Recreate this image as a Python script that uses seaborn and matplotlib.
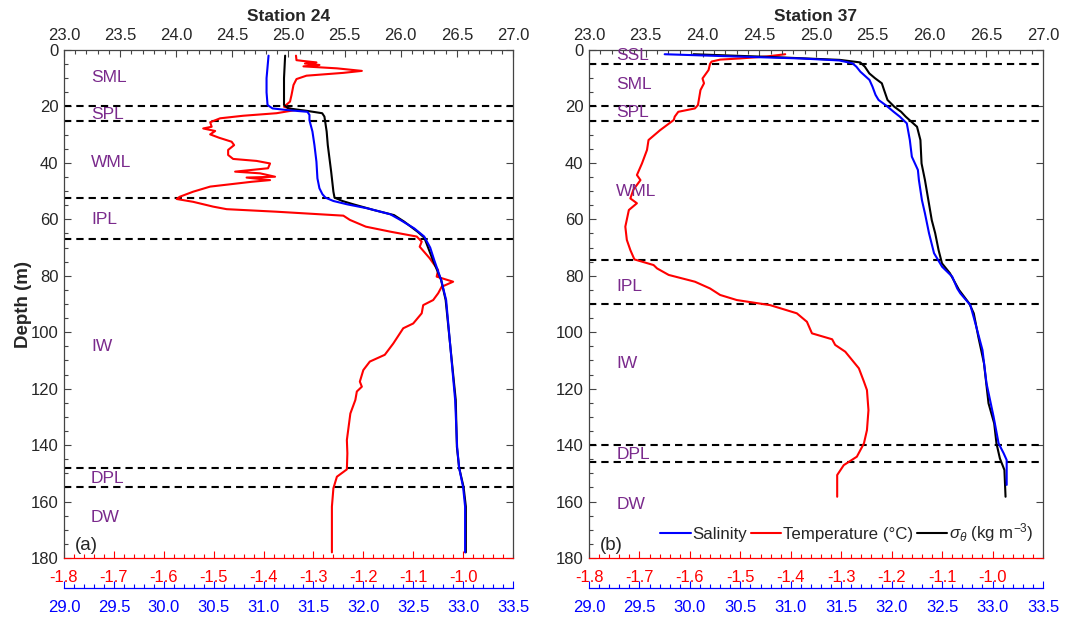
import matplotlib
matplotlib.use("Agg")
import numpy as np
import pandas as pd
import seaborn as sns
import matplotlib.pyplot as plt
from matplotlib.lines import Line2D
from matplotlib.ticker import MultipleLocator, FormatStrFormatter

# ---------------- Station 24 profiles ----------------
st24_sal_depth = [2.0, 6, 10, 15, 19.5, 20.7, 21.3, 21.9, 23.0, 24.9, 28.9, 33.7, 39.6, 45.5,
                  49.0, 51.1, 52.3, 53.5, 54.7, 56.1, 58.2, 60.2, 63.2, 66.1, 70, 74.4, 81.5,
                  88.6, 100.4, 112.2, 124, 140.6, 148, 154.9, 161.8, 178]
st24_sal = [31.05, 31.04, 31.03, 31.03, 31.04, 31.09, 31.24, 31.44, 31.46, 31.46, 31.49, 31.51,
            31.53, 31.54, 31.56, 31.59, 31.62, 31.70, 31.84, 32.04, 32.27, 32.37, 32.51, 32.61,
            32.67, 32.71, 32.78, 32.83, 32.86, 32.89, 32.92, 32.94, 32.96, 33.00, 33.02, 33.02]

st24_sig_depth = [2.0, 10, 19.5, 20.7, 21.6, 22.4, 23.6, 28.9, 33.7, 43.1, 50.2, 52.3, 53.5, 54.7,
                  56.7, 58.5, 60.8, 64.4, 66.5, 73.8, 81.5, 88.6, 100.4, 112.2, 124, 140.6, 148,
                  154.9, 161.8, 178]
st24_sig = [24.97, 24.96, 24.96, 25.00, 25.17, 25.30, 25.32, 25.34, 25.35, 25.38, 25.40, 25.41,
            25.48, 25.58, 25.76, 25.94, 26.03, 26.15, 26.21, 26.28, 26.36, 26.40, 26.43, 26.46,
            26.49, 26.50, 26.52, 26.56, 26.58, 26.58]

st24_tmp_depth = [2.0, 3.6, 3.9, 4.4, 4.8, 5.3, 5.8, 6.5, 7.4, 8.1, 9.1, 10.3, 12.4, 16.0, 18.3,
                  20.1, 21.3, 22.4, 23.3, 24.2, 25.6, 27.2, 27.8, 28.7, 29.9, 31.1, 32.5, 33.7,
                  35.4, 37.2, 38.6, 39.3, 40.2, 41.9, 43.1, 43.7, 44.9, 45.2, 46.1, 46.7, 48.4,
                  50.2, 52.0, 52.8, 53.8, 55.5, 56.4, 57.3, 58.7, 60.2, 62.6, 64.4, 66.1, 67.9,
                  69.7, 73.8, 78.0, 80.3, 82.1, 83.9, 86.2, 88.6, 90.4, 93.3, 96.9, 98.6, 104.0,
                  108.0, 110.4, 113.4, 117.5, 119.3, 121.0, 124.0, 128.8, 138.2, 142.9, 148.6,
                  151.2, 155.3, 161.8, 178.0]
st24_tmp = [-1.335, -1.334, -1.320, -1.294, -1.317, -1.288, -1.320, -1.253, -1.203, -1.240,
            -1.314, -1.334, -1.340, -1.344, -1.347, -1.359, -1.337, -1.374, -1.441, -1.487,
            -1.507, -1.504, -1.521, -1.497, -1.507, -1.489, -1.464, -1.459, -1.471, -1.471,
            -1.461, -1.414, -1.387, -1.391, -1.457, -1.407, -1.377, -1.434, -1.387, -1.424,
            -1.507, -1.541, -1.568, -1.574, -1.541, -1.501, -1.474, -1.374, -1.240, -1.227,
            -1.195, -1.145, -1.093, -1.083, -1.087, -1.067, -1.050, -1.053, -1.020, -1.043,
            -1.050, -1.060, -1.080, -1.083, -1.100, -1.120, -1.140, -1.157, -1.187, -1.200,
            -1.207, -1.203, -1.213, -1.216, -1.226, -1.233, -1.232, -1.233, -1.253, -1.260,
            -1.263, -1.263]

st24_bounds = [20, 25, 52.5, 67, 148, 155]
st24_layers = ["SML", "SPL", "WML", "IPL", "IW", "DPL", "DW"]
st24_layer_depths = [9.6, 22.7, 40, 60.2, 105, 152, 165.8]

# ---------------- Station 37 profiles ----------------
st37_sal_depth = [1.5, 2.3, 3.0, 3.7, 4.7, 5.9, 7.7, 10.6, 13.0, 15.9, 17.7, 19.8, 21.9, 23.6,
                  26.0, 31.9, 37.8, 42.5, 46.1, 53.2, 57.9, 64.9, 72.0, 76.8, 80.3, 84.5, 86.2,
                  90.4, 96.9, 106.3, 118.1, 129.9, 139.4, 142.9, 145.3, 154.1]
st37_sal = [29.75, 30.45, 31.10, 31.48, 31.61, 31.65, 31.69, 31.78, 31.81, 31.84, 31.87, 31.95,
            32.02, 32.08, 32.15, 32.18, 32.20, 32.26, 32.27, 32.30, 32.33, 32.37, 32.42, 32.50,
            32.60, 32.65, 32.68, 32.78, 32.83, 32.90, 32.94, 33.01, 33.06, 33.11, 33.14, 33.14]

st37_sig_depth = [1.5, 2.5, 3.5, 4.4, 5.9, 8.3, 10.0, 11.8, 14.2, 17.7, 20.1, 21.9, 23.6, 27.2,
                  31.9, 40.2, 46.1, 53.2, 60.3, 64.9, 70.9, 75.6, 79.1, 85.0, 89.8, 93.3, 101.6,
                  111.0, 125.2, 132.3, 139.4, 144.7, 148.8, 158.3]
st37_sig = [23.92, 24.62, 25.21, 25.39, 25.43, 25.47, 25.52, 25.58, 25.60, 25.63, 25.69, 25.75,
            25.79, 25.89, 25.92, 25.93, 25.96, 25.99, 26.02, 26.05, 26.08, 26.11, 26.18, 26.26,
            26.35, 26.39, 26.43, 26.48, 26.52, 26.57, 26.59, 26.62, 26.66, 26.67]

st37_tmp_depth = [1.5, 2.3, 3.0, 3.4, 4.1, 4.9, 7.1, 10.1, 11.8, 14.2, 19.5, 20.7, 21.9, 23.6,
                  24.8, 28.4, 31.9, 35.4, 40.2, 44.3, 46.1, 49.5, 52.6, 54.3, 56.7, 62.6, 67.3,
                  70.9, 74.2, 76.2, 77.4, 79.7, 82.1, 84.5, 86.8, 88.6, 90.4, 93.3, 96.3, 100.4,
                  102.5, 104.5, 106.9, 112.8, 117.5, 120.5, 127.6, 134.7, 139.4, 144.1, 147.1,
                  150.6, 158.3]
st37_tmp = [-1.411, -1.448, -1.501, -1.540, -1.557, -1.560, -1.563, -1.575, -1.572, -1.579,
            -1.584, -1.590, -1.623, -1.630, -1.632, -1.659, -1.682, -1.685, -1.695, -1.705,
            -1.698, -1.712, -1.718, -1.705, -1.721, -1.728, -1.725, -1.718, -1.710, -1.672,
            -1.665, -1.642, -1.590, -1.560, -1.540, -1.507, -1.441, -1.388, -1.368, -1.358,
            -1.318, -1.312, -1.292, -1.265, -1.255, -1.249, -1.246, -1.249, -1.255, -1.269,
            -1.295, -1.308, -1.308]

st37_bounds = [5, 20, 25, 74.5, 90, 140, 146]
st37_layers = ["SSL", "SML", "SPL", "WML", "IPL", "IW", "DPL", "DW"]
st37_layer_depths = [1.8, 12.4, 22.3, 50.3, 83.9, 111, 143.2, 161.2]

titles = ["Station 24", "Station 37"]
tags = ["(a)", "(b)"]

# ---------------- styling ----------------
sns.set_style("ticks")
plt.rcParams["font.family"] = ["Liberation Sans", "DejaVu Sans"]
plt.rcParams["mathtext.fontset"] = "custom"
plt.rcParams["mathtext.rm"] = "Liberation Sans"
plt.rcParams["mathtext.it"] = "Liberation Sans:italic"

PURPLE = "#7a2a8c"
FRAME = "#444444"
SAL_C = "#0000ff"
TMP_C = "#ff0000"
SIG_C = "#000000"
LW = 1.5
DASH = (0, (3.5, 2.4))

fig = plt.figure(figsize=(10.73, 6.2), dpi=100)
W, H = 1073.0, 620.0
panel_rects = [
    [64 / W, 1 - 558 / H, 449 / W, 508 / H],
    [589 / W, 1 - 558 / H, 454 / W, 508 / H],
]


def profile(ax, xvals, depths, color):
    df = pd.DataFrame({"val": xvals, "depth": depths})
    sns.lineplot(data=df, x="val", y="depth", sort=False, estimator=None, orient="y",
                 color=color, lw=LW, ax=ax)
    ax.set_xlabel("")
    ax.set_ylabel("")


def draw_panel(rect, title, tag, sal_d, sal, tmp_d, tmp, sig_d, sig, bounds, names, name_d):
    ax = fig.add_axes(rect)          # temperature axis (bottom, red)
    ax_sig = ax.twiny()              # density axis (top)
    ax_sal = ax.twiny()              # salinity axis (offset below)

    profile(ax, tmp, tmp_d, TMP_C)
    profile(ax_sig, sig, sig_d, SIG_C)
    profile(ax_sal, sal, sal_d, SAL_C)

    for b in bounds:
        ax.axhline(b, color="black", ls=DASH, lw=LW, zorder=1)

    ax.set_ylim(180, 0)
    ax.set_xlim(-1.8, -0.9)
    ax_sig.set_xlim(23, 27)
    ax_sal.set_xlim(29, 33.5)

    # depth axis
    ax.yaxis.set_major_locator(MultipleLocator(20))
    ax.yaxis.set_minor_locator(MultipleLocator(5))
    ax.tick_params(axis="y", which="major", direction="in", left=True, right=True,
                   length=5, width=0.8, color=FRAME, labelsize=12, pad=4)
    ax.tick_params(axis="y", which="minor", direction="in", left=True, right=False,
                   length=3, width=0.8, color=FRAME)

    # temperature axis on the bottom spine
    ax.xaxis.set_minor_locator(MultipleLocator(0.02))
    ax.xaxis.set_major_formatter(FormatStrFormatter("%.1f"))
    ax.set_xticks([t for t in np.arange(-1.8, -0.95, 0.1)])
    ax.tick_params(axis="x", which="both", direction="in", color=TMP_C, labelcolor=TMP_C,
                   labelsize=12, pad=9, width=0.8)
    ax.tick_params(axis="x", which="major", length=5)
    ax.tick_params(axis="x", which="minor", length=3)
    ax.spines["bottom"].set_color(TMP_C)
    for s in ("left", "right", "top"):
        ax.spines[s].set_color(FRAME)
        ax.spines[s].set_linewidth(0.9)
    ax.spines["bottom"].set_linewidth(0.9)

    # density axis on top
    ax_sig.xaxis.set_major_locator(MultipleLocator(0.5))
    ax_sig.xaxis.set_minor_locator(MultipleLocator(0.1))
    ax_sig.xaxis.set_major_formatter(FormatStrFormatter("%.1f"))
    ax_sig.tick_params(axis="x", which="both", direction="in", color=FRAME, labelsize=12,
                       pad=5, width=0.8)
    ax_sig.tick_params(axis="x", which="major", length=5)
    ax_sig.tick_params(axis="x", which="minor", length=3)
    for s in ("left", "right", "bottom", "top"):
        ax_sig.spines[s].set_visible(False)

    # salinity axis below the temperature axis
    ax_sal.xaxis.set_ticks_position("bottom")
    ax_sal.xaxis.set_label_position("bottom")
    ax_sal.spines["bottom"].set_position(("outward", 21.5))
    ax_sal.spines["bottom"].set_color(SAL_C)
    ax_sal.spines["bottom"].set_linewidth(0.9)
    for s in ("left", "right", "top"):
        ax_sal.spines[s].set_visible(False)
    ax_sal.xaxis.set_major_locator(MultipleLocator(0.5))
    ax_sal.xaxis.set_minor_locator(MultipleLocator(0.1))
    ax_sal.xaxis.set_major_formatter(FormatStrFormatter("%.1f"))
    ax_sal.tick_params(axis="x", which="both", direction="in", color=SAL_C, labelcolor=SAL_C,
                       labelsize=12, pad=9, width=0.8)
    ax_sal.tick_params(axis="x", which="major", length=5)
    ax_sal.tick_params(axis="x", which="minor", length=3)

    # water-mass layer names
    for nm, d in zip(names, name_d):
        ax_sig.text(23.24, d, nm, color=PURPLE, fontsize=12.5, ha="left", va="center")

    ax.text(0.024, 175.5, tag, transform=ax.get_yaxis_transform(), fontsize=13.5,
            ha="left", va="center")
    ax_sig.set_title(title, fontsize=12.5, fontweight="bold", pad=5)
    return ax, ax_sig, ax_sal


axL = draw_panel(panel_rects[0], titles[0], tags[0], st24_sal_depth, st24_sal, st24_tmp_depth,
                 st24_tmp, st24_sig_depth, st24_sig, st24_bounds, st24_layers, st24_layer_depths)
axR = draw_panel(panel_rects[1], titles[1], tags[1], st37_sal_depth, st37_sal, st37_tmp_depth,
                 st37_tmp, st37_sig_depth, st37_sig, st37_bounds, st37_layers, st37_layer_depths)

axL[0].set_ylabel("Depth (m)", fontsize=13.5, fontweight="bold", labelpad=-1)

handles = [Line2D([], [], color=SAL_C, lw=LW), Line2D([], [], color=TMP_C, lw=LW),
           Line2D([], [], color=SIG_C, lw=LW)]
labels = ["Salinity", "Temperature (°C)", r"$\sigma_\theta$ (kg m$^{-3}$)"]
axR[2].legend(handles, labels, loc="center", bbox_to_anchor=(847 / W, 1 - 533 / H),
              bbox_transform=fig.transFigure, ncol=3, frameon=False, fontsize=12.2,
              handlelength=1.8, handletextpad=0.12, columnspacing=0.2, borderpad=0)

fig.savefig("out.png", dpi=100)
